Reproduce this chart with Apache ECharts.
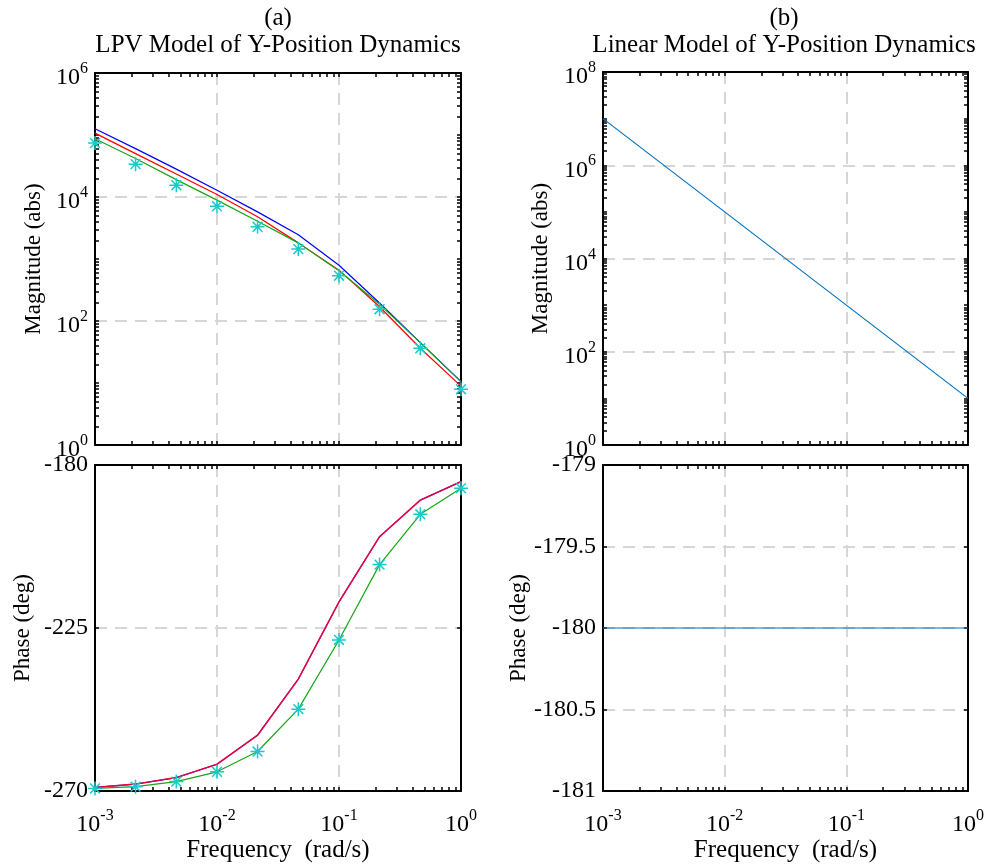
<!DOCTYPE html>
<html>
<head>
<meta charset="utf-8">
<script src="https://cdn.jsdelivr.net/npm/echarts@6/dist/echarts.min.js"></script>
<style>html,body{margin:0;padding:0;background:#fff}#c{width:988px;height:866px}</style>
</head>
<body>
<div id="c"></div>
<script>
// ---- data ----
const freq = [0.001, 0.00215, 0.00464, 0.01, 0.0215, 0.0464, 0.1, 0.215, 0.464, 1];
const magBlue  = [125900, 60260, 28180, 12880, 5754, 2455, 794, 195, 44.7, 10.5];
const magRed   = [107200, 50120, 23440, 10960, 4786, 1820, 661, 170, 36.3, 8.9];
const magGreen = [87100, 41690, 19050, 8913, 4074, 1820, 646, 186, 44.7, 10.5];
const magStar  = [74130, 33880, 15490, 7079, 3311, 1445, 537, 155, 36.3, 7.94];
const phaseBlue  = [-269.0, -268.1, -266.3, -262.6, -254.6, -239.1, -217.8, -199.8, -189.7, -184.6];
const phaseRed   = [-269.0, -268.1, -266.3, -262.6, -254.6, -239.1, -217.8, -199.8, -189.7, -184.6];
const phaseGreen = [-269.3, -268.8, -267.4, -264.7, -259.1, -247.4, -228.3, -207.5, -193.6, -186.4];
const phaseStar  = [-269.3, -268.8, -267.4, -264.7, -259.1, -247.4, -228.3, -207.5, -193.6, -186.4];
const freqLin  = [0.001, 0.01, 0.1, 1];
const magLin   = [1e7, 1e5, 1e3, 10];
const phaseLin = [-180, -180, -180, -180];

const xLabelVals = [0.001, 0.01, 0.1, 1];
const xGridVals = [0.01, 0.1];
const magLabelValsA = [1, 100, 1e4, 1e6];
const magGridValsA = [100, 1e4];
const magLabelValsB = [1, 100, 1e4, 1e6, 1e8];
const magGridValsB = [100, 1e4, 1e6];
const phaseLabelValsA = [-270, -225, -180];
const phaseGridValsA = [-270, -225, -180];
const phaseLabelValsB = [-181, -180.5, -180, -179.5, -179];
const phaseGridValsB = [-180.5, -180, -179.5];

const titlesTop = ['(a)', '(b)'];
const titlesMain = ['LPV Model of Y-Position Dynamics', 'Linear Model of Y-Position Dynamics'];
const xName = 'Frequency  (rad/s)';
const magName = 'Magnitude (abs)';
const phaseName = 'Phase (deg)';

// ---- helpers ----
const FONT = 'Liberation Serif';
function logTicks(a, b) {
  const out = [];
  for (let k = a; k < b; k++) for (let m = 1; m <= 9; m++) out.push(Number((m * Math.pow(10, k)).toPrecision(6)));
  out.push(Math.pow(10, b));
  return out;
}
const pair = (xs, ys) => xs.map((x, i) => [x, ys[i]]);
const powFmt = v => '{b|10}{s|' + Math.round(Math.log10(v)) + '}';
const richP = {
  b: { fontFamily: FONT, fontSize: 24, color: '#000', lineHeight: 34, verticalAlign: 'bottom' },
  s: { fontFamily: FONT, fontSize: 16, color: '#000', verticalAlign: 'top', padding: [5, 0, 0, 0] }
};
const frameLine = { show: true, onZero: false, lineStyle: { color: '#000', width: 2 } };
const gridLine = { show: true, lineStyle: { color: '#d6d6d6', width: 2, type: [12, 8] } };

const grids = [
  { left: 95, top: 73, width: 366, height: 372 },
  { left: 95, top: 465, width: 366, height: 326 },
  { left: 603, top: 72, width: 365, height: 373 },
  { left: 603, top: 465, width: 365, height: 326 }
];

const xAxis = [], yAxis = [];
const xTicks = logTicks(-3, 0);
function addX(gi, bottomLabels) {
  const base = xAxis.length;
  xAxis.push({
    type: 'log', logBase: 10, gridIndex: gi, position: 'bottom', min: 0.001, max: 1,
    axisLine: frameLine,
    axisTick: { show: true, inside: true, length: 4, customValues: xTicks, lineStyle: { color: '#000', width: 1.5 } },
    axisLabel: bottomLabels ? { show: true, customValues: xLabelVals, formatter: powFmt, rich: richP, margin: 12 } : { show: false },
    splitLine: { show: false },
    name: bottomLabels ? xName : '', nameLocation: 'middle', nameGap: 47,
    nameTextStyle: { fontFamily: FONT, fontSize: 25, color: '#000' }
  });
  xAxis.push({
    type: 'log', logBase: 10, gridIndex: gi, position: 'top', min: 0.001, max: 1,
    axisLine: frameLine,
    axisTick: { show: true, inside: true, length: 4, customValues: xTicks, lineStyle: { color: '#000', width: 1.5 } },
    axisLabel: { show: false }, splitLine: { show: false }
  });
  xAxis.push({
    type: 'log', logBase: 10, gridIndex: gi, position: 'bottom', min: 0.001, max: 1,
    axisLine: { show: false }, axisTick: { show: false, customValues: xGridVals },
    axisLabel: { show: false }, splitLine: gridLine, z: -1
  });
  return base;
}
function addY(gi, cfg) {
  const base = yAxis.length;
  const common = cfg.log ? { type: 'log', logBase: 10 } : { type: 'value' };
  yAxis.push(Object.assign({}, common, {
    gridIndex: gi, position: 'left', min: cfg.min, max: cfg.max,
    axisLine: frameLine,
    axisTick: { show: true, inside: true, length: 4, customValues: cfg.ticks, lineStyle: { color: '#000', width: 1.5 } },
    axisLabel: cfg.log
      ? { show: true, customValues: cfg.labels, formatter: powFmt, rich: richP, margin: 7 }
      : { show: true, customValues: cfg.labels, fontFamily: FONT, fontSize: 24, color: '#000', margin: 7 },
    splitLine: { show: false },
    name: cfg.name, nameLocation: 'middle', nameGap: cfg.nameGap,
    nameTextStyle: { fontFamily: FONT, fontSize: 23, color: '#000' }
  }));
  yAxis.push(Object.assign({}, common, {
    gridIndex: gi, position: 'right', min: cfg.min, max: cfg.max,
    axisLine: frameLine,
    axisTick: { show: true, inside: true, length: 4, customValues: cfg.ticks, lineStyle: { color: '#000', width: 1.5 } },
    axisLabel: { show: false }, splitLine: { show: false }
  }));
  yAxis.push(Object.assign({}, common, {
    gridIndex: gi, position: 'left', min: cfg.min, max: cfg.max,
    axisLine: { show: false }, axisTick: { show: false, customValues: cfg.grid },
    axisLabel: { show: false }, splitLine: gridLine, z: -1
  }));
  return base;
}

const xa0 = addX(0, false), xa1 = addX(1, true), xa2 = addX(2, false), xa3 = addX(3, true);
const ya0 = addY(0, { log: true, min: 1, max: 1e6, ticks: logTicks(0, 6), labels: magLabelValsA, grid: magGridValsA, name: magName, nameGap: 50 });
const ya1 = addY(1, { log: false, min: -270, max: -180, ticks: phaseLabelValsA, labels: phaseLabelValsA, grid: phaseGridValsA, name: phaseName, nameGap: 61 });
const ya2 = addY(2, { log: true, min: 1, max: 1e8, ticks: logTicks(0, 8), labels: magLabelValsB, grid: magGridValsB, name: magName, nameGap: 51 });
const ya3 = addY(3, { log: false, min: -181, max: -179, ticks: phaseLabelValsB, labels: phaseLabelValsB, grid: phaseGridValsB, name: phaseName, nameGap: 68 });

function line(xi, yi, data, color, width, opacity) {
  return { type: 'line', xAxisIndex: xi, yAxisIndex: yi, data: data, showSymbol: false, symbol: 'none',
    lineStyle: { color: color, width: width || 1.2, opacity: opacity == null ? 1 : opacity }, silent: true, z: 3 };
}
const starPath = 'path://M0,-10L0,10M-10,0L10,0M-7,-7L7,7M-7,7L7,-7';
function stars(xi, yi, data) {
  return { type: 'line', xAxisIndex: xi, yAxisIndex: yi, data: data, symbol: starPath, symbolSize: 14, showSymbol: true,
    lineStyle: { width: 0, opacity: 0 }, itemStyle: { color: 'rgba(0,0,0,0)', borderColor: '#18caca', borderWidth: 1.5 }, z: 5 };
}

const series = [
  line(xa0, ya0, pair(freq, magBlue), '#0000ff'),
  line(xa0, ya0, pair(freq, magRed), '#ff0000'),
  line(xa0, ya0, pair(freq, magGreen), '#13a813'),
  stars(xa0, ya0, pair(freq, magStar)),
  line(xa1, ya1, pair(freq, phaseBlue), '#0000ff', 1.2),
  line(xa1, ya1, pair(freq, phaseRed), '#ff0028', 1.5, 0.9),
  line(xa1, ya1, pair(freq, phaseGreen), '#13a813'),
  stars(xa1, ya1, pair(freq, phaseStar)),
  line(xa2, ya2, pair(freqLin, magLin), '#0072bd'),
  line(xa3, ya3, pair(freqLin, phaseLin), '#0072bd')
];

const chart = echarts.init(document.getElementById('c'), null, { renderer: 'canvas' });
chart.setOption({
  animation: false,
  backgroundColor: '#fff',
  title: [
    { text: titlesTop[0] + '\n' + titlesMain[0], left: 273, top: 0, textAlign: 'center',
      textStyle: { fontFamily: FONT, fontSize: 25, fontWeight: 'normal', color: '#000', lineHeight: 27 } },
    { text: titlesTop[1] + '\n' + titlesMain[1], left: 779, top: 0, textAlign: 'center',
      textStyle: { fontFamily: FONT, fontSize: 25, fontWeight: 'normal', color: '#000', lineHeight: 27 } }
  ],
  grid: grids,
  xAxis: xAxis,
  yAxis: yAxis,
  series: series
});
</script>
</body>
</html>
